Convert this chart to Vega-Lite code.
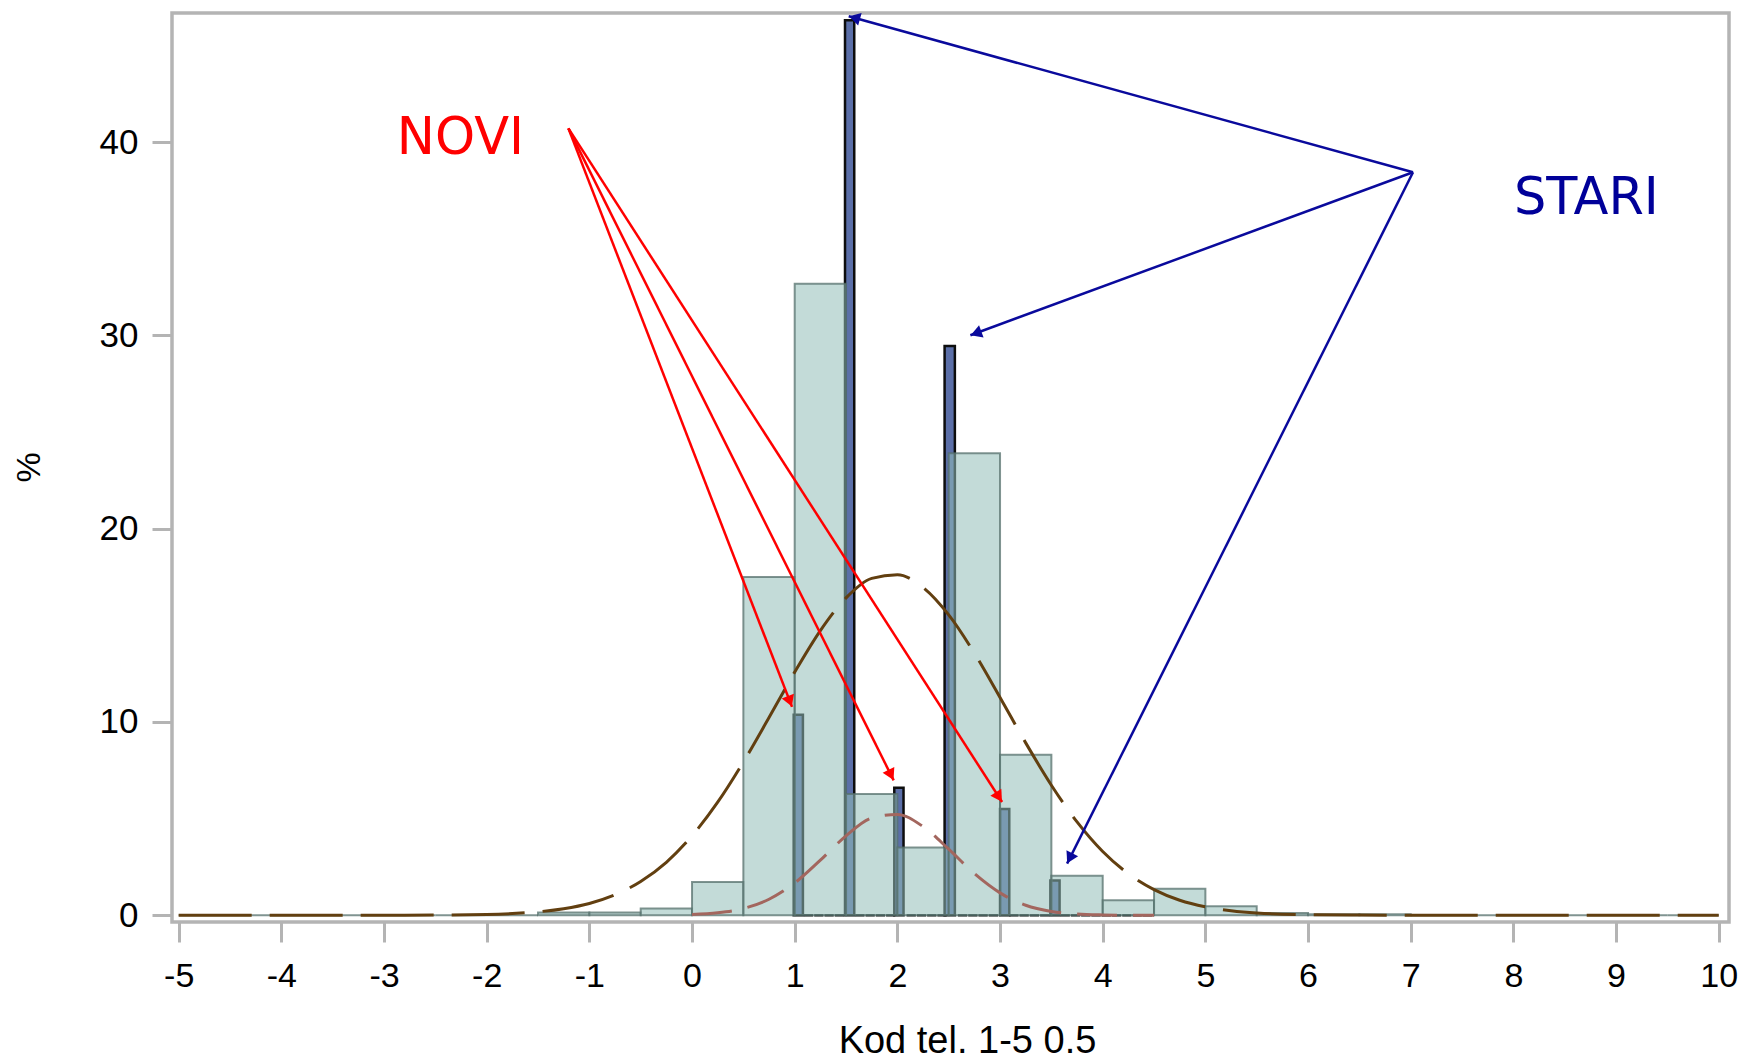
{
  "$schema": "https://vega.github.io/schema/vega-lite/v6.json",
  "autosize": {"type": "none"},
  "padding": {"left": 172, "top": 13, "right": 11, "bottom": 139},
  "width": 1557,
  "height": 909,
  "background": "#ffffff",
  "config": {
    "view": {"stroke": "#b4b4b4", "strokeWidth": 3.5},
    "axis": {
      "grid": false, "domain": false,
      "tickColor": "#b4b4b4", "tickWidth": 3, "tickSize": 20,
      "labelFont": "Liberation Sans", "labelFontSize": 34, "labelColor": "#000000",
      "titleFont": "Liberation Sans", "titleFontSize": 38, "titleFontWeight": "normal", "titleColor": "#000000"
    }
  },
  "datasets": {
    "novi": [
      {"x0": -5, "x1": -4.5, "pct": 0}, {"x0": -4.5, "x1": -4, "pct": 0},
      {"x0": -4, "x1": -3.5, "pct": 0}, {"x0": -3.5, "x1": -3, "pct": 0},
      {"x0": -3, "x1": -2.5, "pct": 0}, {"x0": -2.5, "x1": -2, "pct": 0},
      {"x0": -2, "x1": -1.5, "pct": 0}, {"x0": -1.5, "x1": -1, "pct": 0.15},
      {"x0": -1, "x1": -0.5, "pct": 0.15}, {"x0": -0.5, "x1": 0, "pct": 0.35},
      {"x0": 0, "x1": 0.5, "pct": 1.72}, {"x0": 0.5, "x1": 1, "pct": 17.5},
      {"x0": 1, "x1": 1.5, "pct": 32.67}, {"x0": 1.5, "x1": 2, "pct": 6.28},
      {"x0": 2, "x1": 2.5, "pct": 3.51}, {"x0": 2.5, "x1": 3, "pct": 23.9},
      {"x0": 3, "x1": 3.5, "pct": 8.3}, {"x0": 3.5, "x1": 4, "pct": 2.05},
      {"x0": 4, "x1": 4.5, "pct": 0.78}, {"x0": 4.5, "x1": 5, "pct": 1.37},
      {"x0": 5, "x1": 5.5, "pct": 0.47}, {"x0": 5.5, "x1": 6, "pct": 0.12},
      {"x0": 6, "x1": 6.5, "pct": 0.05}, {"x0": 6.5, "x1": 7, "pct": 0.05},
      {"x0": 7, "x1": 7.5, "pct": 0}, {"x0": 7.5, "x1": 8, "pct": 0},
      {"x0": 8, "x1": 8.5, "pct": 0}, {"x0": 8.5, "x1": 9, "pct": 0},
      {"x0": 9, "x1": 9.5, "pct": 0}, {"x0": 9.5, "x1": 10, "pct": 0}
    ],
    "stari": [
      {"x0": 0.99, "x1": 1.08, "pct": 10.37}, {"x0": 1.09, "x1": 1.18, "pct": 0},
      {"x0": 1.19, "x1": 1.28, "pct": 0}, {"x0": 1.29, "x1": 1.38, "pct": 0},
      {"x0": 1.39, "x1": 1.48, "pct": 0}, {"x0": 1.49, "x1": 1.58, "pct": 46.3},
      {"x0": 1.59, "x1": 1.68, "pct": 0}, {"x0": 1.69, "x1": 1.78, "pct": 0},
      {"x0": 1.79, "x1": 1.88, "pct": 0}, {"x0": 1.89, "x1": 1.98, "pct": 0},
      {"x0": 1.97, "x1": 2.06, "pct": 6.6}, {"x0": 2.09, "x1": 2.18, "pct": 0},
      {"x0": 2.19, "x1": 2.28, "pct": 0}, {"x0": 2.29, "x1": 2.38, "pct": 0},
      {"x0": 2.39, "x1": 2.48, "pct": 0}, {"x0": 2.46, "x1": 2.56, "pct": 29.45},
      {"x0": 2.59, "x1": 2.68, "pct": 0}, {"x0": 2.69, "x1": 2.78, "pct": 0},
      {"x0": 2.79, "x1": 2.88, "pct": 0}, {"x0": 2.89, "x1": 2.98, "pct": 0},
      {"x0": 3.0, "x1": 3.09, "pct": 5.5}, {"x0": 3.09, "x1": 3.18, "pct": 0},
      {"x0": 3.19, "x1": 3.28, "pct": 0}, {"x0": 3.29, "x1": 3.38, "pct": 0},
      {"x0": 3.39, "x1": 3.48, "pct": 0}, {"x0": 3.49, "x1": 3.58, "pct": 1.8},
      {"x0": 3.59, "x1": 3.68, "pct": 0}, {"x0": 3.69, "x1": 3.78, "pct": 0},
      {"x0": 3.79, "x1": 3.88, "pct": 0}, {"x0": 3.89, "x1": 3.98, "pct": 0},
      {"x0": 3.99, "x1": 4.08, "pct": 0}, {"x0": 4.09, "x1": 4.18, "pct": 0},
      {"x0": 4.19, "x1": 4.28, "pct": 0}, {"x0": 4.29, "x1": 4.38, "pct": 0},
      {"x0": 4.39, "x1": 4.48, "pct": 0}
    ],
    "curveNovi": [
      {"x": -5, "y": 0}, {"x": -4, "y": 0}, {"x": -3, "y": 0}, {"x": -2.5, "y": 0.01},
      {"x": -2, "y": 0.04}, {"x": -1.75, "y": 0.09}, {"x": -1.5, "y": 0.18}, {"x": -1.25, "y": 0.34},
      {"x": -1, "y": 0.61}, {"x": -0.75, "y": 1.06}, {"x": -0.5, "y": 1.75}, {"x": -0.25, "y": 2.74},
      {"x": 0, "y": 4.11}, {"x": 0.25, "y": 5.85}, {"x": 0.5, "y": 7.93}, {"x": 0.75, "y": 10.23},
      {"x": 1, "y": 12.58}, {"x": 1.25, "y": 14.73}, {"x": 1.5, "y": 16.42}, {"x": 1.75, "y": 17.43},
      {"x": 2, "y": 17.62}, {"x": 2.25, "y": 16.96}, {"x": 2.5, "y": 15.54}, {"x": 2.75, "y": 13.56},
      {"x": 3, "y": 11.27}, {"x": 3.25, "y": 8.92}, {"x": 3.5, "y": 6.73}, {"x": 3.75, "y": 4.83},
      {"x": 4, "y": 3.3}, {"x": 4.25, "y": 2.15}, {"x": 4.5, "y": 1.33}, {"x": 4.75, "y": 0.78},
      {"x": 5, "y": 0.44}, {"x": 5.25, "y": 0.24}, {"x": 5.5, "y": 0.12}, {"x": 6, "y": 0.03},
      {"x": 6.5, "y": 0.01}, {"x": 7, "y": 0}, {"x": 8, "y": 0}, {"x": 9, "y": 0}, {"x": 10, "y": 0}
    ],
    "curveStari": [
      {"x": 0, "y": 0.04}, {"x": 0.25, "y": 0.13}, {"x": 0.5, "y": 0.35}, {"x": 0.75, "y": 0.83},
      {"x": 1, "y": 1.67}, {"x": 1.25, "y": 2.85}, {"x": 1.5, "y": 4.11}, {"x": 1.75, "y": 5.03},
      {"x": 2, "y": 5.22}, {"x": 2.25, "y": 4.59}, {"x": 2.5, "y": 3.42}, {"x": 2.75, "y": 2.16},
      {"x": 3, "y": 1.16}, {"x": 3.25, "y": 0.52}, {"x": 3.5, "y": 0.2}, {"x": 3.75, "y": 0.07},
      {"x": 4, "y": 0.02}, {"x": 4.25, "y": 0}, {"x": 4.5, "y": 0}
    ],
    "arrowsRed": [
      {"x0": -1.204, "y0": 40.71, "x1": 0.974, "y1": 10.78},
      {"x0": -1.204, "y0": 40.71, "x1": 1.964, "y1": 6.98},
      {"x0": -1.204, "y0": 40.71, "x1": 3.02, "y1": 5.86}
    ],
    "arrowsBlue": [
      {"x0": 7.022, "y0": 38.44, "x1": 1.526, "y1": 46.51},
      {"x0": 7.022, "y0": 38.44, "x1": 2.711, "y1": 30.01},
      {"x0": 7.022, "y0": 38.44, "x1": 3.653, "y1": 2.67}
    ],
    "labels": [
      {"x": -2.256, "y": 39.4, "text": "NOVI", "grp": "NOVI"},
      {"x": 8.711, "y": 36.3, "text": "STARI", "grp": "STARI"}
    ]
  },
  "layer": [
    {
      "data": {"name": "stari"},
      "mark": {"type": "rect", "fill": "#5b6fa8", "stroke": "#0d0d0d", "strokeWidth": 2.5},
      "encoding": {
        "x": {"field": "x0", "type": "quantitative",
              "scale": {"domain": [-5.065, 10.1], "nice": false, "zero": false},
              "axis": {"values": [-5,-4,-3,-2,-1,0,1,2,3,4,5,6,7,8,9,10], "labelExpr": "'' + datum.value",
                       "labelPadding": 17, "title": "Kod tel. 1-5 0.5",
                       "titleX": 795, "titleY": 130, "titleBaseline": "alphabetic", "titleAlign": "center"}},
        "x2": {"field": "x1"},
        "y": {"field": "pct", "type": "quantitative",
              "scale": {"domain": [-0.347, 46.68], "nice": false, "zero": false},
              "axis": {"values": [0, 10, 20, 30, 40], "labelPadding": 14, "labelFontSize": 35, "title": "%",
                       "titleX": -143, "titleY": 454, "titleAngle": -90, "titleAlign": "center",
                       "titleBaseline": "middle", "titleFontSize": 34}},
        "y2": {"datum": 0}
      }
    },
    {
      "data": {"name": "novi"},
      "mark": {"type": "rect", "fill": "#92bdb8", "fillOpacity": 0.55, "stroke": "#55706c", "strokeWidth": 2, "strokeOpacity": 0.75},
      "encoding": {
        "x": {"field": "x0", "type": "quantitative"},
        "x2": {"field": "x1"},
        "y": {"field": "pct", "type": "quantitative"},
        "y2": {"datum": 0}
      }
    },
    {
      "data": {"name": "curveNovi"},
      "mark": {"type": "line", "color": "#623f10", "strokeWidth": 3, "strokeDash": [73, 18], "interpolate": "monotone", "clip": true},
      "encoding": {
        "x": {"field": "x", "type": "quantitative"},
        "y": {"field": "y", "type": "quantitative"}
      }
    },
    {
      "data": {"name": "curveStari"},
      "mark": {"type": "line", "color": "#a3665e", "strokeWidth": 3, "strokeDash": [40, 16], "interpolate": "monotone", "clip": true},
      "encoding": {
        "x": {"field": "x", "type": "quantitative"},
        "y": {"field": "y", "type": "quantitative"}
      }
    },
    {
      "data": {"name": "arrowsRed"},
      "mark": {"type": "rule", "color": "#ff0000", "strokeWidth": 2.5},
      "encoding": {
        "x": {"field": "x0", "type": "quantitative"},
        "y": {"field": "y0", "type": "quantitative"},
        "x2": {"field": "x1"},
        "y2": {"field": "y1"}
      }
    },
    {
      "data": {"name": "arrowsBlue"},
      "mark": {"type": "rule", "color": "#0a0a9c", "strokeWidth": 2.5},
      "encoding": {
        "x": {"field": "x0", "type": "quantitative"},
        "y": {"field": "y0", "type": "quantitative"},
        "x2": {"field": "x1"},
        "y2": {"field": "y1"}
      }
    },
    {
      "data": {"values": [{"x": 0.953, "y": 11.07}]},
      "mark": {"type": "point", "shape": "triangle-up", "filled": true, "size": 170, "angle": 158.9, "color": "#ff0000", "opacity": 1},
      "encoding": {"x": {"field": "x", "type": "quantitative"}, "y": {"field": "y", "type": "quantitative"}}
    },
    {
      "data": {"values": [{"x": 1.938, "y": 7.26}]},
      "mark": {"type": "point", "shape": "triangle-up", "filled": true, "size": 170, "angle": 153.5, "color": "#ff0000", "opacity": 1},
      "encoding": {"x": {"field": "x", "type": "quantitative"}, "y": {"field": "y", "type": "quantitative"}}
    },
    {
      "data": {"values": [{"x": 2.989, "y": 6.12}]},
      "mark": {"type": "point", "shape": "triangle-up", "filled": true, "size": 170, "angle": 147.2, "color": "#ff0000", "opacity": 1},
      "encoding": {"x": {"field": "x", "type": "quantitative"}, "y": {"field": "y", "type": "quantitative"}}
    },
    {
      "data": {"values": [{"x": 1.582, "y": 46.43}]},
      "mark": {"type": "point", "shape": "triangle-up", "filled": true, "size": 170, "angle": 285.5, "color": "#0a0a9c", "opacity": 1},
      "encoding": {"x": {"field": "x", "type": "quantitative"}, "y": {"field": "y", "type": "quantitative"}}
    },
    {
      "data": {"values": [{"x": 2.766, "y": 30.11}]},
      "mark": {"type": "point", "shape": "triangle-up", "filled": true, "size": 170, "angle": 249.8, "color": "#0a0a9c", "opacity": 1},
      "encoding": {"x": {"field": "x", "type": "quantitative"}, "y": {"field": "y", "type": "quantitative"}}
    },
    {
      "data": {"values": [{"x": 3.679, "y": 2.95}]},
      "mark": {"type": "point", "shape": "triangle-up", "filled": true, "size": 170, "angle": 206.6, "color": "#0a0a9c", "opacity": 1},
      "encoding": {"x": {"field": "x", "type": "quantitative"}, "y": {"field": "y", "type": "quantitative"}}
    },
    {
      "data": {"name": "labels"},
      "mark": {"type": "text", "font": "DejaVu Sans", "fontSize": 51, "align": "center", "baseline": "alphabetic"},
      "encoding": {
        "x": {"field": "x", "type": "quantitative"},
        "y": {"field": "y", "type": "quantitative"},
        "text": {"field": "text"},
        "color": {"field": "grp", "type": "nominal", "scale": {"domain": ["NOVI", "STARI"], "range": ["#ff0000", "#000099"]}, "legend": null}
      }
    }
  ]
}
